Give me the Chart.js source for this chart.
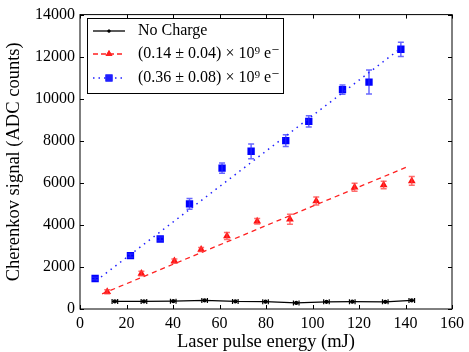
<!DOCTYPE html>
<html>
<head>
<meta charset="utf-8">
<script src="https://cdn.jsdelivr.net/npm/chart.js@4/dist/chart.umd.min.js"></script>
<style>
html,body{margin:0;padding:0;background:#fff;}
#wrap{width:469px;height:352px;position:relative;}
</style>
</head>
<body>
<div id="wrap"><canvas id="chart" width="469" height="352"></canvas></div>
<script>

const xTicks = [0,20,40,60,80,100,120,140,160];
const yTicks = [0,2000,4000,6000,8000,10000,12000,14000];

const labelBlack = 'No Charge';
const labelRed = '(0.14 \u00b1 0.04) \u00d7 10\u2079 e\u207b';
const labelBlue = '(0.36 \u00b1 0.08) \u00d7 10\u2079 e\u207b';

const energyBlack = [15.0,27.5,40.1,53.6,66.8,79.8,93.0,106.0,117.1,131.3,142.7];
const signalBlack = [360,360,370,410,360,350,290,340,350,340,410];
const xErrBlack = [1.2,1.2,1.2,1.2,1.2,1.2,1.2,1.2,1.2,1.2,1.2];

const energyRed = [11.7,26.4,40.6,52.1,63.2,76.2,90.3,101.6,118.1,130.6,142.7];
const signalRed = [820,1690,2280,2830,3470,4170,4270,5140,5790,5900,6090];
const errRed = [100,110,100,90,170,130,240,190,190,180,210];

const energyBlue = [6.5,21.7,34.5,47.1,61.1,73.6,88.5,98.4,112.9,124.3,138.0];
const signalBlue = [1450,2540,3330,5000,6700,7500,8010,8920,10430,10790,12350];
const errBlue = [60,80,90,260,240,350,280,270,220,570,340];

// fit line end points
const fitRedX = [9.5,140.5];
const fitRedY = [720,6750];
const fitBlueX = [7,138];
const fitBlueY = [1350,12400];

const FONT = '"Liberation Serif", "DejaVu Serif", serif';

function pts(xs,ys){
return xs.map((x,i)=>({x:x,y:ys[i]}));
}

const errBars = {
id:'errBars',
afterDatasetsDraw(chart){
const ctx=chart.ctx;
const xs=chart.scales.x, ys=chart.scales.y;
ctx.save();

// vertical bars
[[energyRed,signalRed,errRed,'rgba(255,60,60,0.75)'],[energyBlue,signalBlue,errBlue,'rgba(40,40,255,0.7)']].forEach(s=>{
ctx.strokeStyle=s[3];
ctx.lineWidth=1.5;
s[0].forEach((x,i)=>{
const px=xs.getPixelForValue(x);
const y1=ys.getPixelForValue(s[1][i]-s[2][i]);
const y2=ys.getPixelForValue(s[1][i]+s[2][i]);
ctx.beginPath();
ctx.moveTo(px,y1);ctx.lineTo(px,y2);
ctx.moveTo(px-3,y1);ctx.lineTo(px+3,y1);
ctx.moveTo(px-3,y2);ctx.lineTo(px+3,y2);
ctx.stroke();
});
});

// horizontal bars for black
ctx.strokeStyle='#000';
ctx.lineWidth=1.2;
energyBlack.forEach((x,i)=>{
const py=ys.getPixelForValue(signalBlack[i]);
const x1=xs.getPixelForValue(x-xErrBlack[i]);
const x2=xs.getPixelForValue(x+xErrBlack[i]);
ctx.beginPath();
ctx.moveTo(x1,py);ctx.lineTo(x2,py);
ctx.moveTo(x1,py-2.5);ctx.lineTo(x1,py+2.5);
ctx.moveTo(x2,py-2.5);ctx.lineTo(x2,py+2.5);
ctx.stroke();
});
ctx.restore();
}
};

const frame = {
id:'frame',
afterDraw(chart){
const ctx=chart.ctx;
const a=chart.chartArea;
const xs=chart.scales.x, ys=chart.scales.y;
ctx.save();
ctx.strokeStyle='#000';
ctx.lineWidth=1;
ctx.strokeRect(a.left,a.top,a.right-a.left,a.bottom-a.top);

// inward ticks on all sides
ctx.beginPath();
xTicks.forEach(t=>{
const px=Math.round(xs.getPixelForValue(t))+0.5;
ctx.moveTo(px,a.bottom);ctx.lineTo(px,a.bottom-4);
ctx.moveTo(px,a.top);ctx.lineTo(px,a.top+4);
});
yTicks.forEach(t=>{
const py=Math.round(ys.getPixelForValue(t))+0.5;
ctx.moveTo(a.left,py);ctx.lineTo(a.left+4,py);
ctx.moveTo(a.right,py);ctx.lineTo(a.right-4,py);
});
ctx.stroke();

// axis titles
ctx.fillStyle='#000';
ctx.font='18.5px '+FONT;
ctx.textAlign='center';
ctx.textBaseline='middle';
ctx.fillText('Laser pulse energy (mJ)',(a.left+a.right)/2,342);
ctx.save();
ctx.translate(14,(a.top+a.bottom)/2);
ctx.rotate(-Math.PI/2);
ctx.fillText('Cherenkov signal (ADC counts)',0,0);
ctx.restore();

// legend box
const lx=87, ly=18, lw=196, lh=75;
ctx.fillStyle='#fff';
ctx.fillRect(lx,ly,lw,lh);
ctx.strokeStyle='#000';
ctx.lineWidth=1;
ctx.strokeRect(lx+0.5,ly+0.5,lw,lh);

const rows=[
{y:31,color:'#000',dash:[],label:labelBlack,style:'circle',r:1.5},
{y:54,color:'#ff2020',dash:[5,3],label:labelRed,style:'triangle',r:4},
{y:78,color:'#2020ff',dash:[1.5,4],label:labelBlue,style:'rect',r:5}
];
rows.forEach(r=>{
ctx.strokeStyle=r.color;
ctx.lineWidth=1.3;
ctx.setLineDash(r.dash);
ctx.beginPath();
ctx.moveTo(93,r.y);ctx.lineTo(125,r.y);
ctx.stroke();
ctx.setLineDash([]);
ctx.fillStyle=r.color;
ctx.beginPath();
Chart.helpers.drawPoint(ctx,{pointStyle:r.style,radius:r.r,borderWidth:0},109,r.y);
ctx.fill();
ctx.fillStyle='#000';
ctx.font='16px '+FONT;
ctx.textAlign='left';
ctx.fillText(r.label,138,r.y);
});
ctx.restore();
}
};

new Chart(document.getElementById('chart'),{
type:'scatter',
data:{
datasets:[
{
label:labelBlack,
type:'line',
data:pts(energyBlack,signalBlack),
borderColor:'#000',
backgroundColor:'#000',
borderWidth:1.2,
pointRadius:1.5,
pointStyle:'circle'
},
{
label:'fitRed',
type:'line',
data:pts(fitRedX,fitRedY),
borderColor:'#ff2020',
borderWidth:1.3,
borderDash:[5,4],
pointRadius:0
},
{
label:'fitBlue',
type:'line',
data:pts(fitBlueX,fitBlueY),
borderColor:'#2020ff',
borderWidth:1.5,
borderDash:[1.5,4.5],
pointRadius:0
},
{
label:labelRed,
data:pts(energyRed,signalRed),
backgroundColor:'#ff1010',
borderColor:'#ff1010',
pointStyle:'triangle',
pointRadius:4.5,
borderWidth:0
},
{
label:labelBlue,
data:pts(energyBlue,signalBlue),
backgroundColor:'#0000ff',
borderColor:'#0000ff',
pointStyle:'rect',
pointRadius:5.2,
borderWidth:0
}
]
},
options:{
responsive:false,
animation:false,
layout:{padding:{left:0,right:13,top:10,bottom:0}},
plugins:{legend:{display:false},tooltip:{enabled:false}},
scales:{
x:{
type:'linear',
min:0,max:160,
afterFit:s=>{s.height=43;},
afterBuildTicks:s=>{s.ticks=xTicks.map(v=>({value:v}));},
grid:{display:false,drawTicks:false},
border:{display:false},
ticks:{color:'#000',padding:5,font:{family:FONT,size:16},maxRotation:0,callback:v=>String(v)}
},
y:{
type:'linear',
min:0,max:14000,
afterFit:s=>{s.width=80;},
afterBuildTicks:s=>{s.ticks=yTicks.map(v=>({value:v}));},
grid:{display:false,drawTicks:false},
border:{display:false},
ticks:{color:'#000',padding:5,font:{family:FONT,size:16},callback:v=>String(v)}
}
}
},
plugins:[errBars,frame]
});

</script>
</body>
</html>
